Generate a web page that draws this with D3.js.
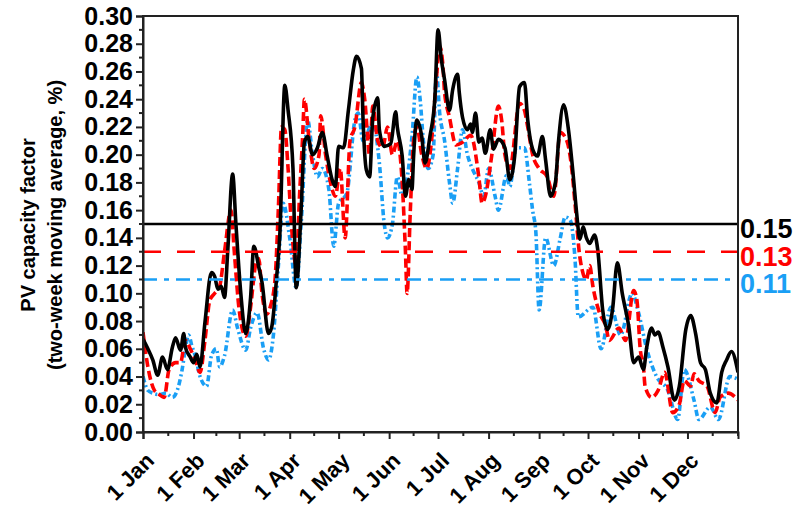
<!DOCTYPE html>
<html>
<head>
<meta charset="utf-8">
<script src="https://cdn.jsdelivr.net/npm/d3@7"></script>
<style>
  body { margin: 0; background: #fff; }
  svg { font-family: "Liberation Sans", Arial, sans-serif; font-weight: bold; }
</style>
</head>
<body>
<div id="chart"></div>
<script>
// month starts (day of year) and their labels
var monthDays = [0, 31, 59, 90, 120, 151, 181, 212, 243, 273, 304, 334];
var monthLabels = ["1 Jan", "1 Feb", "1 Mar", "1 Apr", "1 May", "1 Jun", "1 Jul", "1 Aug", "1 Sep", "1 Oct", "1 Nov", "1 Dec"];
var yTicks = [0, 0.02, 0.04, 0.06, 0.08, 0.10, 0.12, 0.14, 0.16, 0.18, 0.20, 0.22, 0.24, 0.26, 0.28, 0.30];

// black series (solid)
var blackDays = [0, 3, 6, 9, 12, 15, 18, 20, 23, 25, 26, 29, 31, 33, 35, 38, 42, 44, 46, 48, 50, 52, 55, 57, 60, 63, 66, 68, 71, 73, 77, 79, 82, 84, 87, 89, 92, 94, 97, 99, 101, 104, 107, 110, 113, 116, 118, 120, 123, 126, 129, 131, 134, 135, 137, 139, 141, 144, 145, 148, 152, 155, 156, 159, 161, 163, 165, 166, 168, 171, 173, 176, 179, 181, 183, 185, 188, 190, 193, 194, 196, 199, 201, 202, 204, 206, 208, 210, 213, 215, 218, 222, 225, 228, 231, 234, 236, 239, 242, 245, 247, 250, 253, 255, 258, 261, 264, 266, 268, 270, 272, 274, 277, 279, 282, 285, 288, 291, 294, 298, 301, 304, 307, 309, 312, 314, 316, 319, 322, 326, 329, 333, 336, 339, 342, 345, 348, 352, 355, 358, 361, 365];
var blackValues = [0.067, 0.060, 0.052, 0.041, 0.054, 0.045, 0.061, 0.068, 0.059, 0.071, 0.061, 0.054, 0.050, 0.056, 0.047, 0.079, 0.115, 0.112, 0.103, 0.105, 0.097, 0.131, 0.186, 0.150, 0.100, 0.071, 0.097, 0.134, 0.119, 0.108, 0.071, 0.076, 0.112, 0.144, 0.250, 0.232, 0.190, 0.104, 0.160, 0.209, 0.213, 0.200, 0.205, 0.216, 0.199, 0.182, 0.177, 0.206, 0.205, 0.232, 0.261, 0.271, 0.262, 0.225, 0.189, 0.184, 0.227, 0.241, 0.218, 0.206, 0.208, 0.231, 0.220, 0.199, 0.170, 0.182, 0.175, 0.199, 0.225, 0.213, 0.194, 0.213, 0.240, 0.290, 0.269, 0.254, 0.232, 0.247, 0.258, 0.245, 0.227, 0.218, 0.222, 0.216, 0.230, 0.209, 0.212, 0.201, 0.218, 0.204, 0.211, 0.205, 0.182, 0.199, 0.249, 0.252, 0.225, 0.204, 0.199, 0.213, 0.196, 0.170, 0.180, 0.211, 0.236, 0.218, 0.184, 0.158, 0.139, 0.148, 0.140, 0.136, 0.142, 0.131, 0.088, 0.074, 0.088, 0.122, 0.100, 0.076, 0.050, 0.054, 0.045, 0.061, 0.075, 0.070, 0.072, 0.061, 0.047, 0.023, 0.033, 0.074, 0.084, 0.071, 0.050, 0.045, 0.028, 0.021, 0.043, 0.052, 0.058, 0.043];

// red series (dashed)
var redDays = [0, 3, 7, 10, 13, 16, 20, 23, 26, 29, 32, 35, 38, 41, 44, 47, 50, 54, 56, 59, 63, 66, 69, 71, 73, 76, 78, 81, 83, 85, 87, 89, 91, 94, 96, 98, 99, 102, 105, 108, 109, 112, 115, 118, 121, 124, 127, 130, 134, 136, 139, 141, 144, 147, 150, 153, 156, 159, 161, 162, 164, 166, 168, 171, 174, 177, 180, 182, 184, 185, 188, 192, 196, 201, 206, 208, 210, 214, 218, 220, 222, 225, 231, 234, 236, 239, 243, 248, 252, 256, 260, 263, 265, 268, 272, 274, 276, 280, 284, 286, 292, 296, 301, 303, 305, 307, 308, 312, 316, 320, 325, 329, 332, 336, 338, 341, 346, 351, 354, 359, 365];
var redValues = [0.072, 0.047, 0.030, 0.027, 0.025, 0.045, 0.050, 0.050, 0.066, 0.060, 0.052, 0.043, 0.066, 0.095, 0.100, 0.105, 0.130, 0.160, 0.130, 0.088, 0.069, 0.090, 0.120, 0.125, 0.100, 0.085, 0.090, 0.110, 0.160, 0.220, 0.218, 0.190, 0.150, 0.120, 0.170, 0.215, 0.240, 0.210, 0.190, 0.200, 0.228, 0.200, 0.180, 0.170, 0.190, 0.140, 0.210, 0.220, 0.252, 0.240, 0.200, 0.235, 0.210, 0.205, 0.220, 0.200, 0.210, 0.180, 0.130, 0.100, 0.160, 0.210, 0.220, 0.200, 0.190, 0.210, 0.255, 0.278, 0.264, 0.245, 0.227, 0.207, 0.209, 0.214, 0.184, 0.165, 0.170, 0.200, 0.235, 0.225, 0.200, 0.190, 0.237, 0.232, 0.220, 0.200, 0.190, 0.184, 0.170, 0.216, 0.210, 0.190, 0.165, 0.126, 0.110, 0.120, 0.105, 0.086, 0.076, 0.066, 0.075, 0.066, 0.102, 0.095, 0.060, 0.047, 0.033, 0.025, 0.030, 0.043, 0.014, 0.020, 0.037, 0.033, 0.042, 0.037, 0.033, 0.014, 0.025, 0.028, 0.023];

// blue series (dash-dot)
var blueDays = [0, 3, 6, 10, 14, 18, 21, 24, 26, 28, 30, 32, 35, 39, 42, 45, 47, 50, 55, 58, 63, 66, 70, 74, 77, 80, 83, 86, 90, 94, 97, 101, 104, 107, 110, 114, 117, 120, 125, 130, 132, 135, 141, 145, 148, 150, 153, 156, 159, 165, 168, 170, 172, 175, 178, 180, 182, 185, 188, 190, 193, 196, 199, 202, 206, 209, 212, 216, 218, 223, 225, 229, 234, 237, 239, 241, 243, 247, 252, 256, 259, 262, 265, 267, 276, 281, 287, 293, 300, 304, 309, 315, 322, 328, 332, 338, 341, 348, 353, 360, 365];
var blueValues = [0.040, 0.030, 0.028, 0.027, 0.028, 0.025, 0.030, 0.045, 0.060, 0.070, 0.062, 0.055, 0.040, 0.033, 0.055, 0.060, 0.047, 0.055, 0.088, 0.075, 0.059, 0.075, 0.086, 0.060, 0.052, 0.070, 0.119, 0.165, 0.140, 0.104, 0.150, 0.225, 0.200, 0.184, 0.190, 0.175, 0.134, 0.165, 0.172, 0.225, 0.230, 0.210, 0.223, 0.194, 0.150, 0.140, 0.150, 0.184, 0.170, 0.213, 0.256, 0.240, 0.210, 0.190, 0.200, 0.260, 0.230, 0.210, 0.180, 0.165, 0.190, 0.218, 0.200, 0.190, 0.180, 0.170, 0.190, 0.170, 0.160, 0.185, 0.177, 0.205, 0.205, 0.180, 0.160, 0.144, 0.088, 0.140, 0.120, 0.140, 0.155, 0.153, 0.125, 0.083, 0.090, 0.060, 0.090, 0.070, 0.100, 0.086, 0.060, 0.040, 0.030, 0.009, 0.045, 0.023, 0.009, 0.018, 0.009, 0.040, 0.038];

// reference levels
var refValues = [0.15, 0.13, 0.11];
var refLabels = ["0.15", "0.13", "0.11"];
var seriesColors = ["#000000", "#ff0000", "#1a9ff5"];

var width = 805, height = 512;
var margin = {left: 143, right: 67, top: 16, bottom: 80};
var x = d3.scaleLinear().domain([0, 365]).range([margin.left, width - margin.right]);
var y = d3.scaleLinear().domain([0, 0.30]).range([height - margin.bottom, margin.top]);

var svg = d3.select("#chart").append("svg")
  .attr("width", width)
  .attr("height", height);

// clip data to the plot box
svg.append("clipPath").attr("id", "plotClip")
  .append("rect")
  .attr("x", x(0)).attr("y", y(0.30))
  .attr("width", x(365) - x(0)).attr("height", y(0) - y(0.30));

var line = d3.line()
  .x(function (d) { return x(d[0]); })
  .y(function (d) { return y(d[1]); })
  .curve(d3.curveMonotoneX);

var plot = svg.append("g").attr("clip-path", "url(#plotClip)");

var series = [
  {days: blueDays, values: blueValues, color: seriesColors[2], dash: "6,3,2,3"},
  {days: redDays, values: redValues, color: seriesColors[1], dash: "9,4"},
  {days: blackDays, values: blackValues, color: seriesColors[0], dash: null}
];

series.forEach(function (s) {
  plot.append("path")
    .datum(d3.zip(s.days, s.values))
    .attr("fill", "none")
    .attr("stroke", s.color)
    .attr("stroke-width", 3.6)
    .attr("stroke-linejoin", "round")
    .attr("stroke-dasharray", s.dash)
    .attr("d", line);
});

// horizontal reference lines
var refDash = [null, "18,16", "14,7,5,7"];
refValues.forEach(function (v, i) {
  svg.append("line")
    .attr("x1", x(0)).attr("x2", x(365))
    .attr("y1", y(v)).attr("y2", y(v))
    .attr("stroke", seriesColors[i])
    .attr("stroke-width", 2.5)
    .attr("stroke-dasharray", refDash[i]);
  svg.append("text")
    .attr("x", x(365) + 2)
    .attr("y", y(v) + 14)
    .attr("font-size", 27)
    .attr("fill", seriesColors[i])
    .text(refLabels[i]);
});

// frame
svg.append("rect")
  .attr("x", x(0)).attr("y", y(0.30))
  .attr("width", x(365) - x(0)).attr("height", y(0) - y(0.30))
  .attr("fill", "none")
  .attr("stroke", "#222")
  .attr("stroke-width", 2);

// y axis
var yAxis = svg.append("g")
  .attr("transform", "translate(" + x(0) + ",0)")
  .call(d3.axisLeft(y).tickValues(yTicks).tickFormat(d3.format(".2f")).tickSize(7).tickPadding(3));
yAxis.select(".domain").attr("stroke-width", 2).attr("stroke", "#222");
yAxis.selectAll(".tick line").attr("stroke-width", 2).attr("stroke", "#222");
yAxis.selectAll("text").attr("font-size", 25).attr("fill", "#000");

var yMinor = d3.range(0.01, 0.30, 0.02);
svg.append("g").selectAll("line").data(yMinor).enter().append("line")
  .attr("x1", x(0) - 4).attr("x2", x(0))
  .attr("y1", function (d) { return y(d); })
  .attr("y2", function (d) { return y(d); })
  .attr("stroke", "#222").attr("stroke-width", 2);

// x axis
var xAxis = svg.append("g")
  .attr("transform", "translate(0," + y(0) + ")")
  .call(d3.axisBottom(x).tickValues(monthDays).tickFormat(function (d, i) { return monthLabels[i]; }).tickSize(7));
xAxis.select(".domain").attr("stroke-width", 2).attr("stroke", "#222");
xAxis.selectAll(".tick line").attr("stroke-width", 2).attr("stroke", "#222");
xAxis.selectAll("text")
  .attr("font-size", 22)
  .attr("fill", "#000")
  .attr("text-anchor", "end")
  .attr("dy", 0)
  .attr("y", 0)
  .attr("transform", "translate(12,30) rotate(-45)");

var xMinor = monthDays.map(function (d, i) {
  var next = i < monthDays.length - 1 ? monthDays[i + 1] : 365;
  return (d + next) / 2;
}).concat([365]);
svg.append("g").selectAll("line").data(xMinor).enter().append("line")
  .attr("x1", function (d) { return x(d); })
  .attr("x2", function (d) { return x(d); })
  .attr("y1", y(0)).attr("y2", y(0) + 4)
  .attr("stroke", "#222").attr("stroke-width", 2);

// y title
var title = svg.append("text")
  .attr("transform", "translate(0,225) rotate(-90)")
  .attr("text-anchor", "middle")
  .attr("font-size", 20)
  .attr("fill", "#000");
title.append("tspan").attr("x", 0).attr("y", 35).text("PV capacity factor");
title.append("tspan").attr("x", 0).attr("y", 62).text("(two-week moving average, %)");
</script>
</body>
</html>
